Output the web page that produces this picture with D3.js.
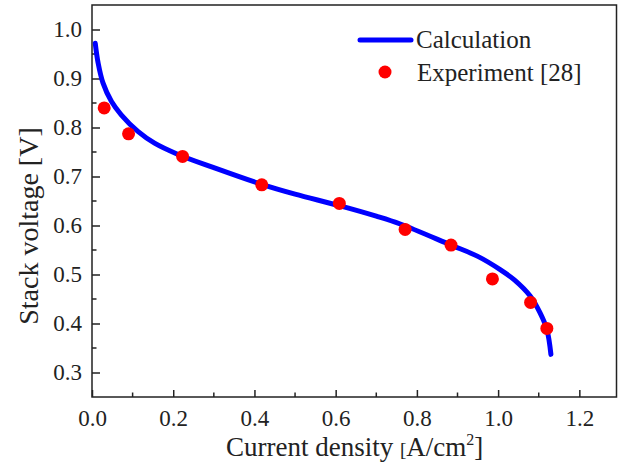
<!DOCTYPE html>
<html>
<head>
<meta charset="utf-8">
<script src="https://cdn.jsdelivr.net/npm/d3@7"></script>
<style>
  body { margin: 0; background: #fff; }
</style>
</head>
<body>
<svg id="chart"></svg>
<script>
// Polarization curve: stack voltage vs current density

const FONT = 'Liberation Serif, serif';

// model curve
const calcJ = [0.008, 0.015, 0.027, 0.048, 0.072, 0.113, 0.154, 0.212, 0.300, 0.418, 0.500, 0.607, 0.700, 0.759, 0.884, 0.950, 1.005, 1.040, 1.079, 1.103, 1.120, 1.130];
const calcV = [0.972, 0.932, 0.891, 0.853, 0.826, 0.792, 0.768, 0.745, 0.718, 0.684, 0.664, 0.641, 0.619, 0.603, 0.560, 0.537, 0.510, 0.489, 0.456, 0.422, 0.388, 0.337];

// experimental points
const expJ = [0.030, 0.090, 0.223, 0.418, 0.609, 0.771, 0.884, 0.986, 1.080, 1.120];
const expV = [0.840, 0.787, 0.741, 0.683, 0.645, 0.592, 0.560, 0.491, 0.443, 0.390];

const xTicks = [0.0, 0.2, 0.4, 0.6, 0.8, 1.0, 1.2];
const yTicks = [0.3, 0.4, 0.5, 0.6, 0.7, 0.8, 0.9, 1.0];

const W = 620, H = 466;
const M = { top: 5, right: 3.5, bottom: 69, left: 92 };
const IW = W - M.left - M.right;
const IH = H - M.top - M.bottom;

const svg = d3.select('#chart').attr('width', W).attr('height', H)
  .attr('font-family', FONT);
svg.append('style').text('text { font-family: Liberation Serif, serif; }');
const g = svg.append('g').attr('transform', `translate(${M.left},${M.top})`);

const x = d3.scaleLinear().domain([0, 1.2915]).range([0, IW]);
const y = d3.scaleLinear().domain([0.25, 1.05]).range([IH, 0]);

// frame
g.append('rect')
  .attr('x', 0).attr('y', 0).attr('width', IW).attr('height', IH)
  .attr('fill', 'none').attr('stroke', '#222').attr('stroke-width', 1.5);

// axes, ticks inward
const xMinor = d3.range(0.1, 1.29, 0.2);
const yMinor = d3.range(0.35, 1.05, 0.1);

const xAxis = g.append('g').attr('transform', `translate(0,${IH})`);
xAxis.call(d3.axisBottom(x).tickValues(xTicks).tickSize(-7).tickPadding(13).tickFormat(d3.format('.1f')));
xAxis.append('g').selectAll('line').data(xMinor).join('line')
  .attr('x1', d => x(d)).attr('x2', d => x(d)).attr('y1', 0).attr('y2', -4.5)
  .attr('stroke', '#222').attr('stroke-width', 1.5);

const yAxis = g.append('g');
yAxis.call(d3.axisLeft(y).tickValues(yTicks).tickSize(-8).tickPadding(10).tickFormat(d3.format('.1f')));
yAxis.append('g').selectAll('line').data(yMinor).join('line')
  .attr('y1', d => y(d)).attr('y2', d => y(d)).attr('x1', 0).attr('x2', 4.5)
  .attr('stroke', '#222').attr('stroke-width', 1.5);

[xAxis, yAxis].forEach(a => {
  a.attr('font-family', FONT);
  a.select('.domain').remove();
  a.selectAll('.tick line').attr('stroke', '#222').attr('stroke-width', 1.5);
  a.selectAll('.tick text').attr('font-size', 23).attr('fill', '#222').attr('font-family', FONT);
});

// calculation curve
const calc = calcJ.map((j, i) => ({ j, v: calcV[i] }));
g.append('path')
  .datum(calc)
  .attr('fill', 'none')
  .attr('stroke', '#0000ff')
  .attr('stroke-width', 5)
  .attr('stroke-linecap', 'round')
  .attr('stroke-linejoin', 'round')
  .attr('d', d3.line().x(d => x(d.j)).y(d => y(d.v)).curve(d3.curveCatmullRom.alpha(0.5)));

// experiment points
const exp = expJ.map((j, i) => ({ j, v: expV[i] }));
g.selectAll('circle.pt').data(exp).join('circle')
  .attr('class', 'pt')
  .attr('cx', d => x(d.j)).attr('cy', d => y(d.v))
  .attr('r', 6.5).attr('fill', '#ff0000');

// axis titles
const xt = svg.append('text')
  .attr('x', 226).attr('y', 456).attr('font-family', FONT)
  .attr('font-size', 27).attr('fill', '#222');
xt.append('tspan').text('Current density ');
xt.append('tspan').attr('font-size', 19).text('[');
xt.append('tspan').text('A/cm');
xt.append('tspan').attr('font-size', 16).attr('dy', -11).text('2');
xt.append('tspan').attr('dy', 11).text(']');

svg.append('text')
  .attr('transform', `translate(38,${226}) rotate(-90)`)
  .attr('text-anchor', 'middle').attr('font-family', FONT)
  .attr('font-size', 28).attr('fill', '#222')
  .text('Stack voltage [V]');

// legend
const lg = svg.append('g');
lg.append('line')
  .attr('x1', 360).attr('x2', 411).attr('y1', 40).attr('y2', 40)
  .attr('stroke', '#0000ff').attr('stroke-width', 5).attr('stroke-linecap', 'round');
lg.append('text').attr('x', 416).attr('y', 48).attr('font-family', FONT).attr('font-size', 25).attr('fill', '#222').text('Calculation');
lg.append('circle').attr('cx', 385).attr('cy', 72).attr('r', 6.5).attr('fill', '#ff0000');
lg.append('text').attr('x', 417).attr('y', 81).attr('font-family', FONT).attr('font-size', 25).attr('fill', '#222').text('Experiment [28]');
</script>
</body>
</html>
